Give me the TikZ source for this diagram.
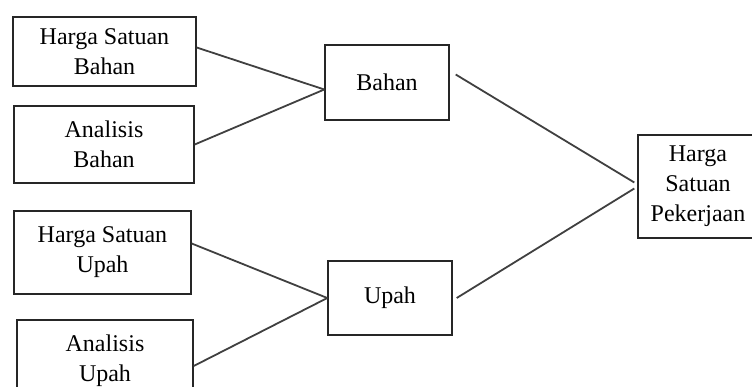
\documentclass[tikz,border=0pt]{standalone}
\usepackage{fontspec}
\setmainfont{Liberation Serif}
\tikzset{
    box/.style={draw=black!85, line width=1.4pt, align=center, inner sep=0pt,
        font=\fontsize{24}{30}\selectfont},
    link/.style={draw=black!75, line width=1.8pt}
}
\begin{document}
\begin{tikzpicture}[x=1pt, y=-1pt]
    \useasboundingbox (0,0) rectangle (752,387);

    % Inputs (left)
    \node[box, minimum width=183pt, minimum height=69pt] (hsb) at (104.5,51.5) {Harga Satuan\\Bahan};
    \node[box, minimum width=180pt, minimum height=77pt] (ab) at (104,144.5) {Analisis\\Bahan};
    \node[box, minimum width=177pt, minimum height=83pt] (hsu) at (102.5,252.5) {Harga Satuan\\Upah};
    \node[box, minimum width=176pt, minimum height=82pt] (au) at (105,361) {Analisis\\Upah};

    % Middle
    \node[box, minimum width=124pt, minimum height=75pt] (bahan) at (387,82.5) {Bahan};
    \node[box, minimum width=124pt, minimum height=74pt] (upah) at (390,298) {Upah};

    % Result (right)
    \node[box, minimum width=120pt, minimum height=103pt] (hsp) at (698,186.5) {Harga\\Satuan\\Pekerjaan};

    % Connectors
    \draw[link] ([yshift=4pt]hsb.east) -- ([yshift=-7pt]bahan.west);
    \draw[link] (ab.east) -- ([yshift=-7pt]bahan.west);
    \draw[link] ([yshift=9pt]hsu.east) -- (upah.west);
    \draw[link] ([yshift=-5pt]au.east) -- (upah.west);
    \draw[link] ([xshift=6pt,yshift=8pt]bahan.east) -- ([xshift=-3pt,yshift=4pt]hsp.west);
    \draw[link] ([xshift=4pt]upah.east) -- ([xshift=-3pt,yshift=-2pt]hsp.west);
\end{tikzpicture}
\end{document}
